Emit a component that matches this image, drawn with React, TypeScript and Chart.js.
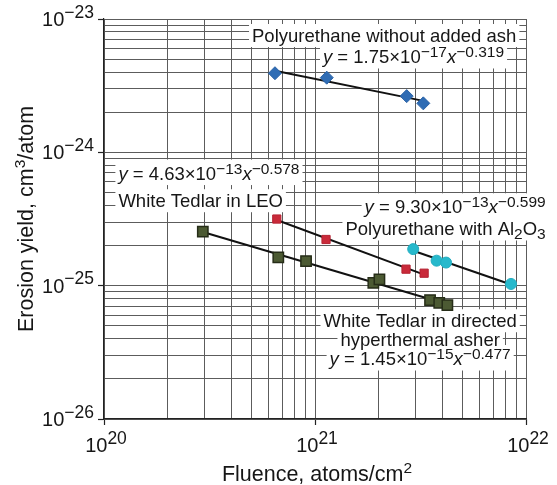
import React, { useEffect, useRef } from 'react';
import { Chart, registerables } from 'chart.js';

Chart.register(...registerables);

// ---- axes ----
const xDecades = [20, 21, 22];
const xTickExp = ['20', '21', '22'];
const yDecades = [-26, -25, -24, -23];
const yTickExp = ['−26', '−25', '−24', '−23'];

// ---- data (fluence atoms/cm2, erosion yield cm3/atom) ----
const puAshFluence = [6.46e20, 1.137e21, 2.72e21, 3.26e21];
const puAshYield = [3.92e-24, 3.63e-24, 2.64e-24, 2.33e-24];

const tedlarLeoFluence = [6.59e20, 1.128e21, 2.7e21, 3.29e21];
const tedlarLeoYield = [3.16e-25, 2.22e-25, 1.33e-25, 1.24e-25];

const tedlarAsherFluence = [2.94e20, 6.7e20, 9.07e20, 1.89e21, 2.02e21, 3.51e21, 3.88e21, 4.24e21];
const tedlarAsherYield = [2.54e-25, 1.63e-25, 1.53e-25, 1.05e-25, 1.115e-25, 7.8e-26, 7.44e-26, 7.15e-26];

const puAl2O3Fluence = [2.92e21, 3.77e21, 4.18e21, 8.49e21];
const puAl2O3Yield = [1.88e-25, 1.54e-25, 1.49e-25, 1.03e-25];

type Seg = { t: string; i?: boolean; sup?: boolean; sub?: boolean };
type Note = { x: number; y: number; align: 'left' | 'center' | 'right'; segs: Seg[] };

const eq = (a: string, e: string, p: string): Seg[] => [
  { t: 'y', i: true },
  { t: ' = ' + a + '×10' },
  { t: e, sup: true },
  { t: 'x', i: true },
  { t: p, sup: true },
];

const notes: Note[] = [
  { x: 5.03e20, y: 6.78e-24, align: 'left', segs: [{ t: 'Polyurethane without added ash' }] },
  { x: 1.091e21, y: 4.68e-24, align: 'left', segs: eq('1.75', '−17', '−0.319') },
  { x: 1.17e20, y: 6.25e-25, align: 'left', segs: eq('4.63', '−13', '−0.578') },
  { x: 1.17e20, y: 3.91e-25, align: 'left', segs: [{ t: 'White Tedlar in LEO' }] },
  { x: 1.24e22, y: 3.49e-25, align: 'right', segs: eq('9.30', '−13', '−0.599') },
  {
    x: 1.24e22, y: 2.4e-25, align: 'right',
    segs: [{ t: 'Polyurethane with Al' }, { t: '2', sub: true }, { t: 'O' }, { t: '3', sub: true }],
  },
  { x: 3.15e21, y: 4.92e-26, align: 'center', segs: [{ t: 'White Tedlar in directed' }] },
  { x: 3.15e21, y: 3.52e-26, align: 'center', segs: [{ t: 'hyperthermal asher' }] },
  { x: 3.15e21, y: 2.54e-26, align: 'center', segs: eq('1.45', '−15', '−0.477') },
];

const FAMILY = '"Liberation Sans", Arial, Helvetica, sans-serif';

function fontFor(s: Seg, size: number, small: number) {
  return `${s.i ? 'italic ' : ''}${s.sup || s.sub ? small : size}px ${FAMILY}`;
}

function richWidth(ctx: CanvasRenderingContext2D, segs: Seg[], size: number, small: number) {
  let w = 0;
  for (const s of segs) {
    ctx.font = fontFor(s, size, small);
    w += ctx.measureText(s.t).width;
  }
  return w;
}

function drawRich(
  ctx: CanvasRenderingContext2D, segs: Seg[], x: number, y: number,
  size: number, small: number, raise: number, drop: number, align: 'left' | 'center' | 'right'
) {
  const w = richWidth(ctx, segs, size, small);
  let cx = align === 'center' ? x - w / 2 : align === 'right' ? x - w : x;
  const left = cx;
  ctx.textAlign = 'left';
  ctx.textBaseline = 'alphabetic';
  for (const s of segs) {
    ctx.font = fontFor(s, size, small);
    const dy = s.sup ? -raise : s.sub ? drop : 0;
    ctx.fillText(s.t, cx, y + dy);
    cx += ctx.measureText(s.t).width;
  }
  return { left, width: w };
}

function decadeTicks(decades: number[]) {
  const ticks: { value: number; major: boolean }[] = [];
  for (let d = 0; d < decades.length; d++) {
    const base = Math.pow(10, decades[d]);
    if (d === decades.length - 1) {
      ticks.push({ value: base, major: true });
    } else {
      for (let k = 1; k <= 9; k++) ticks.push({ value: k * base, major: k === 1 });
    }
  }
  return ticks;
}

function fitLine(xs: number[], ys: number[]) {
  const lx = xs.map(Math.log10);
  const ly = ys.map(Math.log10);
  const n = lx.length;
  const mx = lx.reduce((a, b) => a + b, 0) / n;
  const my = ly.reduce((a, b) => a + b, 0) / n;
  let sxy = 0;
  let sxx = 0;
  for (let i = 0; i < n; i++) {
    sxy += (lx[i] - mx) * (ly[i] - my);
    sxx += (lx[i] - mx) * (lx[i] - mx);
  }
  const b = sxy / sxx;
  const a = my - b * mx;
  const x0 = Math.min(...xs);
  const x1 = Math.max(...xs);
  return [
    { x: x0, y: Math.pow(10, a + b * Math.log10(x0)) },
    { x: x1, y: Math.pow(10, a + b * Math.log10(x1)) },
  ];
}

const pts = (xs: number[], ys: number[]) => xs.map((x, i) => ({ x, y: ys[i] }));

const TEXT = '#161616';
const NOTE_SIZE = 18.5;
const NOTE_SMALL = 15.5;

const notesPlugin = {
  id: 'notes',
  beforeDatasetsDraw(chart: any) {
    const ctx: CanvasRenderingContext2D = chart.ctx;
    const xs = chart.scales.x;
    const ys = chart.scales.y;
    ctx.save();
    // boxes first
    for (const n of notes) {
      const px = xs.getPixelForValue(n.x);
      const py = ys.getPixelForValue(n.y);
      const w = richWidth(ctx, n.segs, NOTE_SIZE, NOTE_SMALL);
      const left = n.align === 'center' ? px - w / 2 : n.align === 'right' ? px - w : px;
      const hasSup = n.segs.some((s) => s.sup);
      const top = py - (hasSup ? 20 : 17.5);
      const bottom = py + 5.5;
      ctx.fillStyle = '#ffffff';
      ctx.fillRect(left - 3, top, w + 6, bottom - top);
    }
    // then text
    ctx.fillStyle = TEXT;
    for (const n of notes) {
      const px = xs.getPixelForValue(n.x);
      const py = ys.getPixelForValue(n.y);
      drawRich(ctx, n.segs, px, py, NOTE_SIZE, NOTE_SMALL, 6, 4, n.align);
    }
    ctx.restore();
  },
  afterDraw(chart: any) {
    const ctx: CanvasRenderingContext2D = chart.ctx;
    const xs = chart.scales.x;
    const ys = chart.scales.y;
    const area = chart.chartArea;
    ctx.save();
    ctx.fillStyle = TEXT;
    xDecades.forEach((e, i) => {
      const px = xs.getPixelForValue(Math.pow(10, e));
      drawRich(ctx, [{ t: '10' }, { t: xTickExp[i], sup: true }], px + 2, area.bottom + 33, 20, 17.5, 8.5, 0, 'center');
    });
    yDecades.forEach((e, i) => {
      const py = ys.getPixelForValue(Math.pow(10, e));
      drawRich(ctx, [{ t: '10' }, { t: yTickExp[i], sup: true }], area.left - 10, py + 7, 20, 17.5, 8.5, 0, 'right');
    });
    // x title
    drawRich(
      ctx,
      [{ t: 'Fluence, atoms/cm' }, { t: '2', sup: true }],
      (area.left + area.right) / 2 + 2, area.bottom + 62, 21.5, 15.5, 8, 0, 'center'
    );
    // y title
    ctx.translate(33, (area.top + area.bottom) / 2);
    ctx.rotate(-Math.PI / 2);
    drawRich(
      ctx,
      [{ t: 'Erosion yield, cm' }, { t: '3', sup: true }, { t: '/atom' }],
      0, 0, 21.5, 15.5, 8, 0, 'center'
    );
    ctx.restore();
  },
};

export default function App() {
  const ref = useRef<HTMLCanvasElement | null>(null);

  useEffect(() => {
    if (!ref.current) return;
    const gridColor = '#5c5c5c';
    const tickColor = (c: any) => (c.tick && c.tick.major ? '#222' : 'rgba(0,0,0,0)');

    const chart = new Chart(ref.current, {
      type: 'scatter',
      data: {
        datasets: [
          {
            label: 'Polyurethane without added ash',
            data: pts(puAshFluence, puAshYield),
            pointStyle: 'rectRot',
            pointRadius: 6.5,
            backgroundColor: '#2f6cb4',
            borderColor: '#2a62a6',
            borderWidth: 1,
          },
          {
            label: 'White Tedlar in LEO',
            data: pts(tedlarLeoFluence, tedlarLeoYield),
            pointStyle: 'rect',
            pointRadius: 5.8,
            backgroundColor: '#c92a3a',
            borderColor: '#b52232',
            borderWidth: 1,
          },
          {
            label: 'White Tedlar in directed hyperthermal asher',
            data: pts(tedlarAsherFluence, tedlarAsherYield),
            pointStyle: 'rect',
            pointRadius: 7.3,
            backgroundColor: '#4c5a33',
            borderColor: '#262d18',
            borderWidth: 1.5,
          },
          {
            label: 'Polyurethane with Al2O3',
            data: pts(puAl2O3Fluence, puAl2O3Yield),
            pointStyle: 'circle',
            pointRadius: 5.5,
            backgroundColor: '#27b9cc',
            borderColor: '#22adc0',
            borderWidth: 1,
          },
          ...[
            fitLine(puAshFluence, puAshYield),
            fitLine(tedlarLeoFluence, tedlarLeoYield),
            fitLine(tedlarAsherFluence, tedlarAsherYield),
            fitLine(puAl2O3Fluence, puAl2O3Yield),
          ].map((d) => ({
            label: 'fit',
            data: d,
            showLine: true,
            pointRadius: 0,
            borderColor: '#111',
            borderWidth: 2,
            fill: false,
          })),
        ],
      },
      options: {
        animation: false,
        responsive: false,
        devicePixelRatio: 1,
        layout: { padding: { top: 19, right: 31, left: 0, bottom: 0 } },
        plugins: { legend: { display: false }, tooltip: { enabled: false } },
        scales: {
          x: {
            type: 'logarithmic',
            min: 1e20,
            max: 1e22,
            afterBuildTicks: (s: any) => {
              s.ticks = decadeTicks(xDecades);
            },
            afterFit: (s: any) => {
              s.height = 66;
            },
            ticks: { display: false, callback: () => '' },
            grid: { color: gridColor, lineWidth: 1, tickLength: 6, tickColor, tickWidth: 1.2 },
            border: { color: '#222', width: 1.2 },
          },
          y: {
            type: 'logarithmic',
            min: 1e-26,
            max: 1e-23,
            afterBuildTicks: (s: any) => {
              s.ticks = decadeTicks(yDecades);
            },
            afterFit: (s: any) => {
              s.width = 104;
            },
            ticks: { display: false, callback: () => '' },
            grid: { color: gridColor, lineWidth: 1, tickLength: 6, tickColor, tickWidth: 1.2 },
            border: { color: '#222', width: 1.2 },
          },
        },
      } as any,
      plugins: [notesPlugin],
    });
    return () => chart.destroy();
  }, []);

  return (
    <div style={{ position: 'absolute', left: 0, top: 0, width: 557, height: 485, background: '#fff' }}>
      <canvas ref={ref} width={557} height={485} style={{ display: 'block' }} />
    </div>
  );
}
